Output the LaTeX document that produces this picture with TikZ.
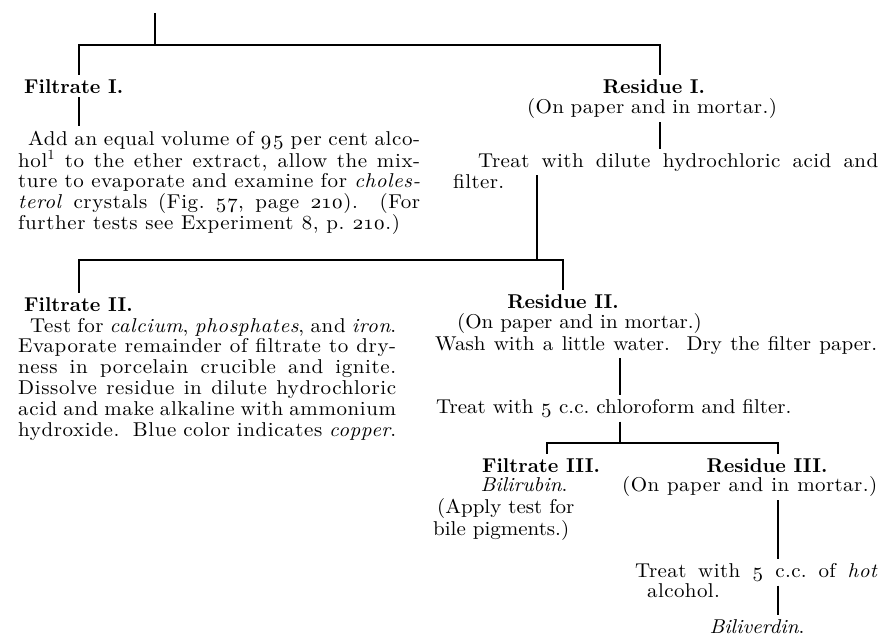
\documentclass[tikz,border=0pt]{standalone}
\usepackage{fontspec}
\setmainfont{lmroman10-regular.otf}[BoldFont=lmroman10-bold.otf,
  ItalicFont=lmroman10-italic.otf,BoldItalicFont=lmroman10-bolditalic.otf]
\usetikzlibrary{positioning}
\newcommand\bodyfnt{\fontsize{20}{20.8}\selectfont\addfontfeatures{FakeStretch=1.05}}
\newcommand\parafnt{\bodyfnt\addfontfeatures{LetterSpace=3}}
\newcommand\spacedfnt{\bodyfnt\addfontfeatures{LetterSpace=2}}
\newcommand\headfnt{\fontsize{20}{20.8}\selectfont\bfseries}
\newcommand\osn[1]{\oldstylenums{#1}}
\begin{document}
\begin{tikzpicture}[x=1pt,y=-1pt,
  txt/.style={inner xsep=0pt,inner ysep=4pt,font=\bodyfnt},
  wide/.style={inner xsep=0pt,inner ysep=4pt,font=\spacedfnt},
  head/.style={inner xsep=0pt,inner ysep=4pt,font=\headfnt},
  para/.style={inner xsep=0pt,inner ysep=4pt,font=\parafnt,align=justify},
  link/.style={line width=1.7pt}]
  \useasboundingbox (0,0) rectangle (879,641);
  % first filtering
  \coordinate (top) at (155,13);
  \coordinate (b1l) at (79,45);
  \coordinate (b1r) at (660,45);
  \node[head,anchor=base west] (fil1) at (24,93) {Filtrate I.};
  \node[para,text width=402pt,anchor=base west] (par1) at (18,145)
    {\hspace*{10pt}Add an equal volume of \osn{95} per cent alco-\linebreak
     hol\textsuperscript{1} to the ether extract, allow the mix-\linebreak
     ture to evaporate and examine for \textit{choles-}\linebreak
     \textit{terol} crystals (Fig.~\osn{57}, page \osn{210}).\ \ (For\linebreak
     further tests see Experiment \osn{8}, p.~\osn{210}.)};
  \node[head,anchor=base] (res1) at (654,93) {Residue I.};
  \node[wide,anchor=base] (res1b) at (652,113)
    {\makebox[250pt][s]{(On paper and in mortar.)}};
  \node[wide,anchor=base west] (treat1) at (478,167)
    {\makebox[400pt][s]{Treat with dilute hydrochloric acid and}};
  \node[wide,anchor=base west] (filt1) at (453,188) {filter.};
  \draw[link] (top) -- (top |- b1l);
  \draw[link] (fil1.north -| b1l) -- (b1l) -- (b1r) -- (res1.north -| b1r);
  \draw[link] (fil1.south -| b1l) -- (par1.north -| b1l);
  \draw[link] (res1b.south -| b1r) -- (treat1.north -| b1r);
  % second filtering
  \coordinate (b2l) at (79,260);
  \coordinate (b2m) at (537,260);
  \coordinate (b2r) at (563,260);
  \node[head,anchor=base west] (fil2) at (24,311) {Filtrate II.};
  \node[para,text width=378pt,anchor=base west] (par2) at (18,332)
    {\hspace*{12pt}Test for \textit{calcium}, \textit{phosphates}, and \textit{iron}.\\
     Evaporate remainder of filtrate to dry-\linebreak
     ness in porcelain crucible and ignite.\linebreak
     Dissolve residue in dilute hydrochloric\linebreak
     acid and make alkaline with ammonium\linebreak
     hydroxide.\ \ Blue color indicates \textit{copper}.};
  \node[head,anchor=base] (res2) at (563,308) {Residue II.};
  \node[txt,anchor=base west] (res2b) at (457,328) {(On paper and in mortar.)};
  \node[txt,anchor=base west] (wash) at (435,350)
    {\makebox[442pt][s]{Wash with a little water.\ \ Dry the filter paper.}};
  \node[txt,anchor=base west] (treat2) at (436,413)
    {Treat with \osn{5} c.c.\ chloroform and filter.};
  \draw[link] (treat1.south -| b2m) -- (b2m);
  \draw[link] (fil2.north -| b2l) -- (b2l) -- (b2r) -- (res2.north -| b2r);
  \coordinate (b3m) at (620,443);
  \draw[link] (wash.south -| b3m) -- (treat2.north -| b3m);
  \draw[link] (treat2.south -| b3m) -- (b3m);
  % third filtering
  \coordinate (b3l) at (547,443);
  \coordinate (b3r) at (778,443);
  \node[head,anchor=base] (fil3) at (541,472) {Filtrate III.};
  \node[txt,anchor=base] (bili) at (524,491) {\textit{Bilirubin}.};
  \node[txt,anchor=base west] (apply) at (437,513) {(Apply test for};
  \node[txt,anchor=base west] (bile) at (433,535) {bile pigments.)};
  \node[head,anchor=base] (res3) at (767,472) {Residue III.};
  \node[wide,anchor=base west] (res3b) at (622,491)
    {\makebox[255pt][s]{(On paper and in mortar.)}};
  \node[wide,anchor=base west] (treat3) at (635,577)
    {\makebox[243pt][s]{Treat with \osn{5} c.c.\ of \textit{hot}}};
  \node[wide,anchor=base west] (alc) at (647,597) {alcohol.};
  \node[txt,anchor=base] (bv) at (757,633) {\textit{Biliverdin}.};
  \draw[link] (fil3.north -| b3l) -- (b3l) -- (b3r) -- (res3.north -| b3r);
  \draw[link] (res3b.south -| b3r) -- (treat3.north -| b3r);
  \draw[link] (treat3.south -| b3r) -- (bv.north -| b3r);
\end{tikzpicture}
\end{document}
